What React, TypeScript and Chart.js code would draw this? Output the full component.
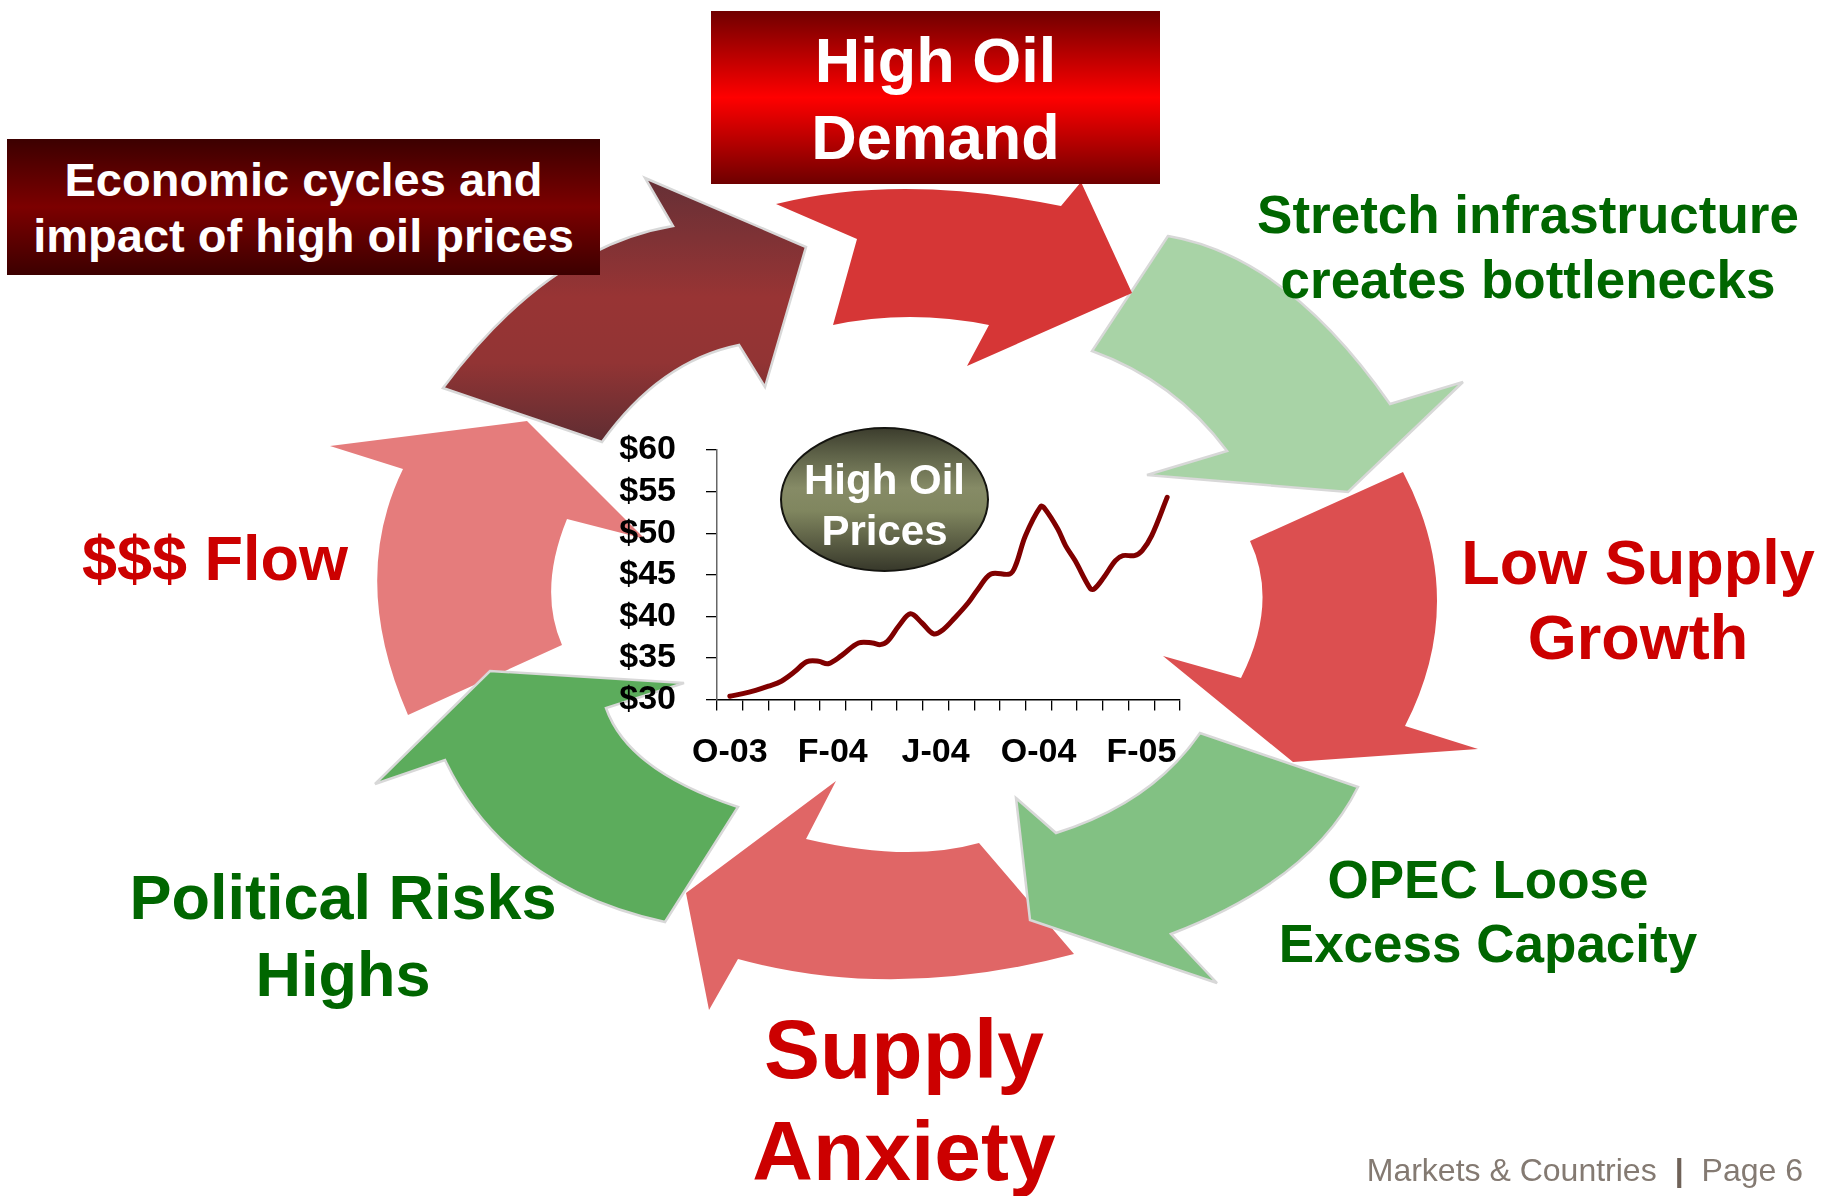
import React, { useEffect, useRef } from 'react';
import { Chart, registerables } from 'chart.js';

Chart.register(...registerables);

const FONT = '"Liberation Sans", Arial, Helvetica, sans-serif';

// Monthly categories, Oct 2003 – Mar 2005 (every 4th one is labelled)
const months = ['O-03', 'N-03', 'D-03', 'J-04', 'F-04', 'M-04', 'A-04', 'M-04', 'J-04', 'J-04', 'A-04', 'S-04', 'O-04', 'N-04', 'D-04', 'J-05', 'F-05', 'M-05'];

// Oil price observations: position in months since Oct 2003, and price in US$
const priceMonth = [0, 0.5, 1, 1.5, 2, 2.5, 3, 3.45, 3.82, 4.35, 5, 5.55, 5.85, 6.13, 6.58, 7.02, 7.47, 7.92, 8.29, 8.74, 9.26, 9.63, 10.15, 10.89, 11.12, 11.49, 12.08, 12.23, 12.75, 13.05, 13.42, 14.02, 14.17, 14.54, 14.99, 15.28, 15.73, 16.03, 16.4, 17];
const priceUsd = [30.4, 30.7, 31.1, 31.6, 32.2, 33.3, 34.55, 34.6, 34.3, 35.3, 36.8, 36.8, 36.6, 37.0, 38.9, 40.3, 39.2, 37.9, 38.4, 39.8, 41.6, 43.2, 45.1, 45.1, 46.2, 49.7, 53.2, 53.0, 50.5, 48.5, 46.7, 43.3, 43.3, 44.7, 46.7, 47.3, 47.3, 47.9, 49.7, 54.3];

const yTicks = [30, 35, 40, 45, 50, 55, 60];

// Decorative cycle arrows (drawn in this order)
const arrows = [
  { name: 'flow', d: 'M408,715 Q349,580 403,469 L330,446 L527,421 L645,539 L567,519 Q538,590 562,645 Z', fill: '#e57c7c', stroke: 'none' },
  { name: 'political', d: 'M665,922 Q505,887 445,760 L375,784 L490,671 L684,683 L606,708 Q628,771 738,807 Z', fill: '#5cac5c', stroke: '#d8d8d8' },
  { name: 'anxiety', d: 'M1074,954 L979,843 Q908,863 806,839 L836,781 L686,893 L709,1010 L738,959 Q894,1002 1074,954 Z', fill: '#e06666', stroke: 'none' },
  { name: 'opec', d: 'M1358,787 L1200,733 Q1152,803 1056,833 L1016,798 L1030,920 L1217,983 L1171,934 Q1312,880 1358,787 Z', fill: '#82c183', stroke: '#d8d8d8' },
  { name: 'lowsupply', d: 'M1403,472 L1250,541 Q1279,603 1241,678 L1163,656 L1293,762 L1478,749 L1405,726 Q1470,599 1403,472 Z', fill: '#dc4f50', stroke: 'none' },
  { name: 'stretch', d: 'M1168,236 L1092,351 Q1175,381 1227,451 L1147,475 L1348,492 L1463,382 L1390,404 Q1287,256 1168,236 Z', fill: '#a8d3a6', stroke: '#d8d8d8' },
  { name: 'demand', d: 'M776,204 L857,239 L833,325 Q909,309 989,325 L967,366 L1132,293 L1081,182 L1061,206 Q901,173 776,204 Z', fill: '#d63636', stroke: 'none' },
  { name: 'economic', d: 'M443,388 Q548,247 673,226 L645,178 L806,247 L765,387 L739,345 Q660,361 602,442 Z', fill: 'url(#econGrad)', stroke: '#d8d8d8' },
];

function Label(props: { lines: string[]; cx: number; top: number; lh: number; size: number; color: string }) {
  const { lines, cx, top, lh, size, color } = props;
  return (
    <div
      style={{
        position: 'absolute',
        left: cx - 450,
        width: 900,
        top,
        textAlign: 'center',
        fontSize: size,
        lineHeight: lh + 'px',
        color,
        fontWeight: 'bold',
        whiteSpace: 'nowrap',
      }}
    >
      {lines.map((l, i) => (
        <div key={i}>{l}</div>
      ))}
    </div>
  );
}

export default function App() {
  const ref = useRef<HTMLCanvasElement>(null);

  useEffect(() => {
    const canvas = ref.current as HTMLCanvasElement;
    const tickFont = { family: FONT, size: 34, weight: 'bold' as const };
    const chart = new Chart(canvas, {
      type: 'line',
      data: {
        labels: months,
        datasets: [
          {
            label: 'Oil price',
            data: priceMonth.map((m, i) => ({ x: m, y: priceUsd[i] })),
            xAxisID: 'xData',
            yAxisID: 'y',
            borderColor: '#800000',
            borderWidth: 5,
            pointRadius: 0,
            tension: 0.35,
            fill: false,
            borderCapStyle: 'round',
            borderJoinStyle: 'round',
          },
        ],
      },
      options: {
        responsive: false,
        animation: false,
        layout: { padding: { left: 717 - 140, top: 450, right: 1822 - 1180, bottom: 1196 - 699.5 - 100 } },
        plugins: { legend: { display: false }, tooltip: { enabled: false } },
        scales: {
          x: {
            type: 'category',
            position: 'bottom',
            offset: true,
            grid: { offset: true, drawOnChartArea: false, drawTicks: true, tickLength: 11, color: '#000', lineWidth: 1.3 },
            border: { color: '#000', width: 1.5 },
            ticks: {
              autoSkip: false,
              maxRotation: 0,
              minRotation: 0,
              padding: 22,
              color: '#000',
              font: tickFont,
              callback: (_v: any, i: number) => (i % 4 === 0 ? months[i] : ''),
            },
            afterFit: (s: any) => {
              s.height = 100;
            },
          },
          xData: {
            type: 'linear',
            axis: 'x',
            position: 'bottom',
            display: false,
            min: -0.5,
            max: 17.5,
          },
          y: {
            type: 'linear',
            position: 'left',
            min: yTicks[0],
            max: yTicks[yTicks.length - 1],
            grid: { drawOnChartArea: false, drawTicks: true, tickLength: 11, color: '#000', lineWidth: 1.3 },
            border: { color: '#666', width: 1.5 },
            ticks: {
              autoSkip: false,
              stepSize: 5,
              padding: 30,
              color: '#000',
              font: tickFont,
              callback: (v: any) => '$' + v,
            },
            afterBuildTicks: (s: any) => {
              s.ticks = yTicks.map((v) => ({ value: v }));
            },
            afterFit: (s: any) => {
              s.width = 140;
            },
          },
        },
      } as any,
    });
    return () => chart.destroy();
  }, []);

  return (
    <div
      style={{
        position: 'fixed',
        left: 0,
        top: 0,
        width: 1822,
        height: 1196,
        background: '#fff',
        overflow: 'hidden',
        fontFamily: FONT,
      }}
    >
      <svg width={1822} height={1196} style={{ position: 'absolute', left: 0, top: 0 }}>
        <defs>
          <linearGradient id="econGrad" gradientUnits="userSpaceOnUse" x1="0" y1="178" x2="0" y2="442">
            <stop offset="0" stopColor="#653036" />
            <stop offset="0.45" stopColor="#983434" />
            <stop offset="0.7" stopColor="#923434" />
            <stop offset="1" stopColor="#5f2d32" />
          </linearGradient>
        </defs>
        {arrows.map((a) => (
          <path key={a.name} d={a.d} fill={a.fill} stroke={a.stroke} strokeWidth={2.5} strokeLinejoin="miter" />
        ))}
      </svg>

      <canvas
        ref={ref}
        width={1822}
        height={1196}
        style={{ position: 'absolute', left: 0, top: 0, width: 1822, height: 1196 }}
      />

      {/* Ellipse label */}
      <div
        style={{
          position: 'absolute',
          left: 780,
          top: 427,
          width: 209,
          height: 145,
          boxSizing: 'border-box',
          borderRadius: '50%',
          border: '2px solid #151510',
          background: 'linear-gradient(to bottom, #3d3e2e 0%, #5e6248 18%, #868b66 42%, #80865f 58%, #5b5e44 80%, #38392b 100%)',
          color: '#fff',
          fontWeight: 'bold',
          fontSize: 42,
          lineHeight: '51px',
          textAlign: 'center',
          paddingTop: 25,
          whiteSpace: 'nowrap',
        }}
      >
        <div>High Oil</div>
        <div>Prices</div>
      </div>

      {/* High Oil Demand box */}
      <div
        style={{
          position: 'absolute',
          left: 711,
          top: 11,
          width: 449,
          height: 173,
          boxSizing: 'border-box',
          background: 'linear-gradient(to bottom, #700000 0%, #c00000 28%, #ff0000 50%, #c00000 72%, #6e0000 100%)',
          color: '#fff',
          fontWeight: 'bold',
          fontSize: 63,
          lineHeight: '77px',
          textAlign: 'center',
          paddingTop: 11,
          whiteSpace: 'nowrap',
        }}
      >
        <div>High Oil</div>
        <div>Demand</div>
      </div>

      {/* Economic cycles box */}
      <div
        style={{
          position: 'absolute',
          left: 7,
          top: 139,
          width: 593,
          height: 136,
          boxSizing: 'border-box',
          background: 'linear-gradient(to bottom, #3c0000 0%, #7c0000 50%, #3c0000 100%)',
          color: '#fff',
          fontWeight: 'bold',
          fontSize: 47,
          lineHeight: '56px',
          textAlign: 'center',
          paddingTop: 13,
          whiteSpace: 'nowrap',
        }}
      >
        <div>Economic cycles and</div>
        <div>impact of high oil prices</div>
      </div>

      <Label lines={['Stretch infrastructure', 'creates bottlenecks']} cx={1528} top={181.5} lh={65} size={53} color="#006600" />
      <Label lines={['Low Supply', 'Growth']} cx={1638} top={524.5} lh={75} size={63} color="#cc0000" />
      <Label lines={['OPEC Loose', 'Excess Capacity']} cx={1488} top={848} lh={64} size={53} color="#006600" />
      <Label lines={['Supply', 'Anxiety']} cx={904} top={998} lh={102} size={84} color="#cc0000" />
      <Label lines={['Political Risks', 'Highs']} cx={343} top={858.5} lh={77} size={63} color="#006600" />
      <Label lines={['$$$ Flow']} cx={215} top={520} lh={76} size={63} color="#cc0000" />

      {/* Footer */}
      <div
        style={{
          position: 'absolute',
          right: 1822 - 1803,
          top: 1150,
          fontSize: 32,
          lineHeight: '40px',
          color: '#847a72',
          whiteSpace: 'nowrap',
        }}
      >
        <span>Markets &amp; Countries</span>
        <span style={{ fontWeight: 'bold', color: '#6f6258', margin: '0 18px' }}>|</span>
        <span>Page 6</span>
      </div>
    </div>
  );
}
